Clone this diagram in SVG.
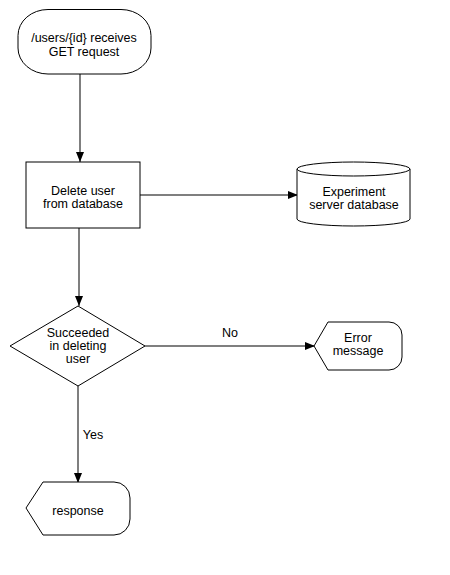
<svg xmlns="http://www.w3.org/2000/svg" width="450" height="575" viewBox="0 0 450 575">
<style>
.n{fill:#fff;stroke:#000;stroke-width:1}
.t{font-family:"Liberation Sans",Arial,sans-serif;font-size:12.5px;fill:#000;text-anchor:middle}
.c{stroke:#555;stroke-width:1.5;fill:none}
</style>
<defs>
<marker id="a" markerWidth="10" markerHeight="8" refX="10" refY="4" orient="auto" markerUnits="userSpaceOnUse">
<path d="M0,0L10,4L0,8z" fill="#000"/>
</marker>
</defs>
<rect width="450" height="575" fill="#fff"/>
<g id="connectors">
<line class="c" x1="80" y1="74" x2="80" y2="162" marker-end="url(#a)"/>
<line class="c" x1="140" y1="195" x2="298" y2="195" marker-end="url(#a)"/>
<line class="c" x1="79" y1="228" x2="79" y2="306" marker-end="url(#a)"/>
<line class="c" x1="145" y1="346" x2="315" y2="346" marker-end="url(#a)"/>
<line class="c" x1="78" y1="386" x2="78" y2="483" marker-end="url(#a)"/>
<text class="t" x="230" y="337">No</text>
<text class="t" x="93" y="439">Yes</text>
</g>
<g id="start">
<rect class="n" x="18" y="9.5" width="133" height="64.5" rx="30" ry="26"/>
<text class="t" x="84" y="42">/users/{id} receives</text>
<text class="t" x="84" y="56">GET request</text>
</g>
<g id="delete">
<rect class="n" x="26" y="162" width="114" height="66"/>
<text class="t" x="83" y="195">Delete user</text>
<text class="t" x="83" y="208">from database</text>
</g>
<g id="db">
<path class="n" d="M297,169 A56.5,7 0 0 1 410,169 L410,219 A56.5,7 0 0 1 297,219 Z"/>
<path class="n" d="M297,169 A56.5,7 0 0 0 410,169"/>
<text class="t" x="354" y="196">Experiment</text>
<text class="t" x="354" y="209">server database</text>
</g>
<g id="decision">
<path class="n" d="M78,306 L145,346 L78,386 L10,346 Z"/>
<text class="t" x="78" y="337">Succeeded</text>
<text class="t" x="78" y="350">in deleting</text>
<text class="t" x="78" y="363">user</text>
</g>
<g id="error">
<path class="n" d="M314,346 L328,322 L389,322 A13,13 0 0 1 402,335 L402,357 A13,13 0 0 1 389,370 L328,370 Z"/>
<text class="t" x="358" y="342">Error</text>
<text class="t" x="358" y="355">message</text>
</g>
<g id="response">
<path class="n" d="M26,508 L43,482 L114,482 A16,16 0 0 1 130,498 L130,519 A16,16 0 0 1 114,535 L43,535 Z"/>
<text class="t" x="78" y="515">response</text>
</g>
</svg>
